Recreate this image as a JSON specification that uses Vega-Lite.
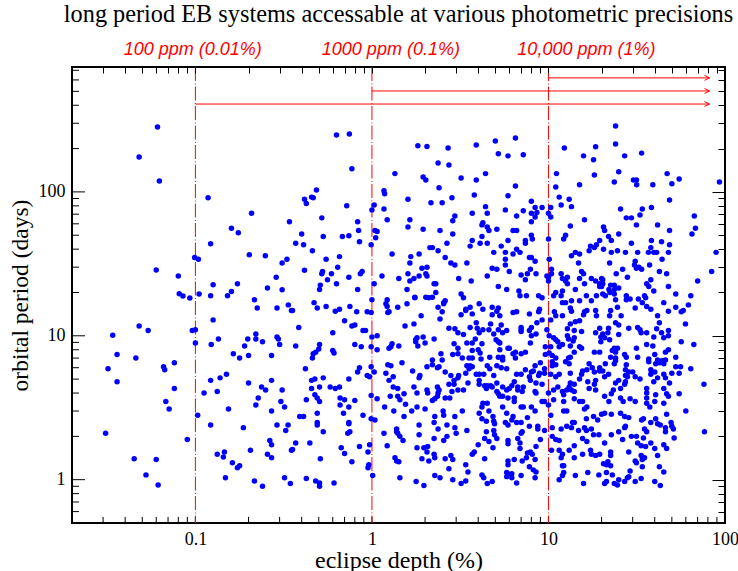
{"$schema":"https://vega.github.io/schema/vega-lite/v6.json","width":653,"height":456,"autosize":"none","padding":{"left":72,"top":67,"right":13,"bottom":48},"background":"white","view":{"stroke":"black","strokeWidth":2,"fill":null},"title":{"text":"long period EB systems accessable at various photometric precisions","font":"Liberation Serif","fontSize":24.3,"fontWeight":"normal","color":"black","anchor":"middle","offset":14},"datasets":{"pts":[
{"d":0.061,"p":283},{"d":0.048,"p":175},{"d":0.0625,"p":119},{"d":0.118,"p":91},{"d":0.208,"p":71},{"d":0.341,"p":62},{"d":0.16,"p":56},{"d":0.175,"p":52},{"d":0.122,"p":43.6},{"d":0.099,"p":35},{"d":0.104,"p":34},{"d":0.202,"p":36.6},{"d":0.249,"p":36},{"d":0.31,"p":32},{"d":0.33,"p":34},{"d":0.06,"p":28.7},{"d":0.08,"p":26},{"d":0.287,"p":25.5},{"d":0.126,"p":22.6},{"d":0.173,"p":23},{"d":0.256,"p":21.5},{"d":0.31,"p":20.9},{"d":0.16,"p":20.3},{"d":0.152,"p":19},{"d":0.081,"p":19.6},{"d":0.085,"p":18.9},{"d":0.093,"p":18.3},{"d":0.105,"p":19.5},{"d":0.122,"p":19},{"d":0.216,"p":17.8},{"d":0.224,"p":15.6},{"d":0.29,"p":15.6},{"d":0.336,"p":16.4},{"d":0.35,"p":15},{"d":0.126,"p":12.9},{"d":0.048,"p":11.7},{"d":0.054,"p":10.9},{"d":0.034,"p":10.1},{"d":0.096,"p":10.9},{"d":0.1,"p":11},{"d":0.135,"p":9.5},{"d":0.198,"p":9.5},{"d":0.22,"p":10.3},{"d":0.22,"p":9.5},{"d":0.24,"p":9.1},{"d":0.29,"p":9.8},{"d":0.295,"p":9.5},{"d":0.3,"p":8.7},{"d":0.1,"p":8.9},{"d":0.123,"p":8.7},{"d":0.19,"p":8.5},{"d":0.036,"p":7.4},{"d":0.046,"p":7},{"d":0.164,"p":7.5},{"d":0.178,"p":7},{"d":0.2,"p":7.3},{"d":0.27,"p":7.3},{"d":0.076,"p":6.5},{"d":0.066,"p":6.1},{"d":0.067,"p":5.8},{"d":0.032,"p":5.9},{"d":0.036,"p":4.8},{"d":0.122,"p":4.9},{"d":0.138,"p":5.1},{"d":0.15,"p":5.4},{"d":0.2,"p":4.7},{"d":0.27,"p":4.9},{"d":0.076,"p":4.3},{"d":0.112,"p":4},{"d":0.133,"p":4.1},{"d":0.237,"p":4.4},{"d":0.25,"p":4.2},{"d":0.31,"p":4.2},{"d":0.227,"p":3.7},{"d":0.305,"p":3.5},{"d":0.068,"p":3.5},{"d":0.071,"p":3.1},{"d":0.22,"p":3.3},{"d":0.32,"p":3.2},{"d":0.27,"p":3},{"d":0.154,"p":3.1},{"d":0.103,"p":2.8},{"d":0.122,"p":2.4},{"d":0.187,"p":2.3},{"d":0.29,"p":2.4},{"d":0.335,"p":2.4},{"d":0.325,"p":2.2},{"d":0.031,"p":2.1},{"d":0.09,"p":1.9},{"d":0.264,"p":1.87},{"d":0.27,"p":1.75},{"d":0.205,"p":1.6},{"d":0.35,"p":1.6},{"d":0.146,"p":1.56},{"d":0.133,"p":1.5},{"d":0.144,"p":1.44},{"d":0.256,"p":1.5},{"d":0.27,"p":1.42},{"d":0.045,"p":1.4},{"d":0.06,"p":1.38},{"d":0.162,"p":1.31},{"d":0.178,"p":1.25},{"d":0.173,"p":1.21},{"d":0.0525,"p":1.08},{"d":0.148,"p":1.03},{"d":0.216,"p":0.98},{"d":0.32,"p":1.03},{"d":0.0615,"p":0.92},{"d":0.24,"p":0.9},{"d":0.345,"p":0.94},
{"d":0.63,"p":249},{"d":0.745,"p":253},{"d":0.77,"p":145},{"d":1.82,"p":209},{"d":2.05,"p":207},{"d":2.7,"p":202},{"d":3.9,"p":212},{"d":5,"p":226},{"d":5.2,"p":184},{"d":5.9,"p":178},{"d":2.37,"p":159},{"d":2.73,"p":154},{"d":1.35,"p":134},{"d":1.95,"p":127},{"d":2.02,"p":121},{"d":3.2,"p":125},{"d":3.9,"p":121},{"d":4.4,"p":134},{"d":2.4,"p":107},{"d":1.17,"p":102},{"d":1.18,"p":97},{"d":0.485,"p":103},{"d":0.455,"p":92},{"d":0.465,"p":91},{"d":0.415,"p":89},{"d":0.425,"p":83},{"d":0.72,"p":80},{"d":1.6,"p":89},{"d":2.16,"p":84},{"d":2.5,"p":84},{"d":2.84,"p":91},{"d":3.8,"p":95},{"d":5.9,"p":94},{"d":1.03,"p":81},{"d":1,"p":75},{"d":1.17,"p":76},{"d":4.4,"p":79},{"d":3.7,"p":71},{"d":4.5,"p":71},{"d":5.7,"p":75},{"d":2.95,"p":68},{"d":2.87,"p":63},{"d":0.52,"p":66},{"d":0.83,"p":62},{"d":1.22,"p":64},{"d":1.64,"p":64},{"d":4.25,"p":61},{"d":4.2,"p":59},{"d":4.5,"p":57},{"d":4.6,"p":54},{"d":5.1,"p":55},{"d":1.6,"p":57},{"d":1.95,"p":55},{"d":2.43,"p":54},{"d":2.87,"p":51},{"d":4.2,"p":49},{"d":0.84,"p":54},{"d":1.04,"p":54},{"d":1.07,"p":53},{"d":0.4,"p":51},{"d":0.53,"p":49},{"d":0.68,"p":49},{"d":0.74,"p":49.5},{"d":1.05,"p":48},{"d":0.37,"p":44},{"d":0.41,"p":43},{"d":0.85,"p":45},{"d":0.99,"p":43},{"d":3.7,"p":46},{"d":4.5,"p":44},{"d":5.9,"p":46},{"d":2.66,"p":44},{"d":3.6,"p":42},{"d":4.1,"p":44},{"d":5.4,"p":42},{"d":2.13,"p":41},{"d":2.2,"p":41},{"d":2.37,"p":39},{"d":4.9,"p":38},{"d":5.7,"p":38},{"d":0.46,"p":39},{"d":1.3,"p":37},{"d":1.85,"p":37},{"d":1.66,"p":35.5},{"d":0.655,"p":35.5},{"d":0.55,"p":34},{"d":2.6,"p":35},{"d":5.7,"p":34},{"d":1.64,"p":32},{"d":2.8,"p":32},{"d":2.95,"p":31},{"d":3.45,"p":32},{"d":5.7,"p":31},{"d":0.64,"p":30},{"d":1.92,"p":29.5},{"d":2.05,"p":30},{"d":4.8,"p":29.5},{"d":5.1,"p":29},{"d":6,"p":28},{"d":0.415,"p":28.5},{"d":0.525,"p":28},{"d":0.52,"p":27},{"d":0.88,"p":28},{"d":0.86,"p":27},{"d":0.59,"p":27},{"d":2.02,"p":27},{"d":1.6,"p":27},{"d":2.05,"p":26},{"d":1.85,"p":26},{"d":1.73,"p":25},{"d":1.64,"p":24},{"d":1.42,"p":25},{"d":1.14,"p":26},{"d":0.74,"p":25.5},{"d":0.56,"p":24.5},{"d":0.63,"p":23},{"d":0.51,"p":22.5},{"d":0.505,"p":21},{"d":0.83,"p":21},{"d":1.03,"p":23},{"d":1.58,"p":21},{"d":2.25,"p":23},{"d":2.3,"p":23},{"d":2.3,"p":20},{"d":3.1,"p":25},{"d":3.65,"p":24},{"d":4.5,"p":26},{"d":5.2,"p":22},{"d":5.8,"p":21},{"d":3.2,"p":19.5},{"d":1.75,"p":18.5},{"d":2.02,"p":18.5},{"d":2.2,"p":18.5},
{"d":1,"p":17.8},{"d":1.22,"p":17.8},{"d":1.2,"p":16.7},{"d":1.22,"p":16},{"d":1.58,"p":16.7},{"d":1.75,"p":18.4},{"d":2.1,"p":18.4},{"d":2.55,"p":17},{"d":2.6,"p":17.5},{"d":3.3,"p":18.4},{"d":0.47,"p":17},{"d":0.49,"p":15.6},{"d":0.55,"p":16},{"d":0.355,"p":15},{"d":0.62,"p":14.8},{"d":0.655,"p":15.3},{"d":0.75,"p":16},{"d":0.82,"p":14.7},{"d":0.94,"p":14.7},{"d":0.99,"p":14.5},{"d":1.25,"p":14.7},{"d":1.23,"p":14.5},{"d":1.4,"p":15.8},{"d":2.37,"p":15.8},{"d":2.5,"p":14.7},{"d":2.55,"p":16.7},{"d":3.4,"p":15},{"d":3.4,"p":15.3},{"d":3.6,"p":15.8},{"d":4.25,"p":15.3},{"d":4.05,"p":16.7},{"d":4.8,"p":15.8},{"d":5.2,"p":15.6},{"d":5.1,"p":14.8},{"d":3.2,"p":14},{"d":3.7,"p":14.2},{"d":1.9,"p":13.8},{"d":2.43,"p":13.1},{"d":5.3,"p":13.8},{"d":4.8,"p":14},{"d":0.7,"p":12.7},{"d":0.385,"p":11.4},{"d":0.77,"p":11.7},{"d":0.8,"p":11.9},{"d":1.54,"p":11.7},{"d":1.73,"p":12.1},{"d":0.89,"p":10.9},{"d":0.92,"p":10.9},{"d":0.6,"p":10.5},{"d":2.73,"p":11.3},{"d":2.95,"p":11.2},{"d":3.07,"p":10.5},{"d":3.3,"p":10.2},{"d":3.6,"p":11.4},{"d":3.9,"p":12.3},{"d":3.95,"p":11.3},{"d":4.05,"p":10.5},{"d":4.25,"p":11},{"d":4.6,"p":11},{"d":4.7,"p":12.1},{"d":5.4,"p":11.9},{"d":5.2,"p":11},{"d":4.9,"p":10.3},{"d":5.8,"p":10.9},{"d":5.5,"p":10.5},{"d":1,"p":9.8},{"d":1.07,"p":10},{"d":1.95,"p":9.8},{"d":2.25,"p":9.5},{"d":1.77,"p":9.4},{"d":1.8,"p":9.7},{"d":1.77,"p":9.1},{"d":1.82,"p":8.5},{"d":2,"p":8.9},{"d":3.85,"p":9.5},{"d":3.45,"p":8.9},{"d":3.7,"p":8.9},{"d":2.92,"p":8.8},{"d":3.07,"p":8.2},{"d":4.2,"p":8.8},{"d":5.05,"p":9.4},{"d":5.3,"p":8.9},{"d":5.2,"p":9.1},{"d":5.9,"p":8.2},{"d":0.37,"p":8.5},{"d":0.505,"p":8.7},{"d":0.5,"p":8.1},{"d":0.8,"p":8.7},{"d":0.87,"p":8.4},{"d":0.99,"p":8.4},{"d":1.07,"p":8},{"d":1.25,"p":8.2},{"d":1.3,"p":8.8},{"d":1.28,"p":8.4},{"d":1.42,"p":8.5},{"d":3.7,"p":7.9},{"d":4,"p":8},{"d":4.1,"p":7.6},{"d":5.3,"p":8},{"d":0.6,"p":7.9},{"d":0.61,"p":7.6},{"d":0.48,"p":7.7},{"d":0.465,"p":7.5},{"d":0.46,"p":7},{"d":2.46,"p":7.5},{"d":2.87,"p":7.4},{"d":3.07,"p":7.5},{"d":3.25,"p":7},{"d":3.55,"p":7},{"d":3.7,"p":7},{"d":4.15,"p":6.9},{"d":4.65,"p":7.1},{"d":5.2,"p":7.1},{"d":5.5,"p":7.1},{"d":5.5,"p":6.8},{"d":2.2,"p":6.8},{"d":2.5,"p":6.8},{"d":1.48,"p":6.5},{"d":1.23,"p":6.3},{"d":1.28,"p":6.2},{"d":2.05,"p":6.1},{"d":2.2,"p":6.3},{"d":2.35,"p":6},{"d":2.4,"p":6.1},{"d":0.99,"p":6.1},{"d":0.85,"p":6},{"d":0.83,"p":5.6},{"d":0.42,"p":5.9},{"d":1.03,"p":5.6},{"d":1.2,"p":5.5},{"d":1.7,"p":5.7},{"d":2.6,"p":5.6},{"d":3.45,"p":6.2},{"d":3.6,"p":6.2},{"d":3.7,"p":6.1},{"d":3.55,"p":5.9},{"d":4.5,"p":6.2},{"d":4.65,"p":5.9},{"d":5.1,"p":6.2},{"d":5.4,"p":6},{"d":5.8,"p":5.9},{"d":2.8,"p":5.3},{"d":3.1,"p":5.3},{"d":3.4,"p":5.5},{"d":3.07,"p":5.1},{"d":3.9,"p":5.4},{"d":4.05,"p":5.4},{"d":4.3,"p":5.4},{"d":4.9,"p":5.3},{"d":0.94,"p":5.3},{"d":0.97,"p":5.2},{"d":1.87,"p":5.3},{"d":1.85,"p":5.1},{"d":1.32,"p":5.2},{"d":1.25,"p":4.9},{"d":0.74,"p":5},{"d":0.53,"p":5.1},{"d":0.455,"p":4.9},{"d":0.475,"p":5},{"d":4.05,"p":4.9},{"d":2.92,"p":4.9},{"d":2.92,"p":4.6},{"d":2.73,"p":4.6},{"d":3.5,"p":4.7},{"d":4.05,"p":4.6},{"d":5.1,"p":4.7},{"d":4.35,"p":4.5},{"d":4.5,"p":4.5},{"d":4.7,"p":4.5},{"d":4.45,"p":4.3},{"d":4.8,"p":4.4},{"d":5.5,"p":4.4},{"d":5.8,"p":4.2},{"d":2.35,"p":4.4},{"d":2.4,"p":4.2},{"d":1.73,"p":4.4},{"d":1.32,"p":4.4},{"d":1.4,"p":4.3},{"d":0.58,"p":4.4},{"d":0.62,"p":4.3},{"d":0.655,"p":4.4},{"d":0.455,"p":4.3},{"d":0.505,"p":4.4},{"d":2.05,"p":4.2},{"d":1.8,"p":4},{"d":2.84,"p":4.1},{"d":3.07,"p":4.2},{"d":3.3,"p":4.2},{"d":1.52,"p":3.95},{"d":2.07,"p":4},{"d":2.37,"p":4},{"d":5.1,"p":4.1},{"d":5.2,"p":3.95},{"d":5.3,"p":3.8},{"d":5.5,"p":3.8},{"d":0.475,"p":3.9},{"d":0.49,"p":3.7},{"d":1.27,"p":3.8},{"d":1.4,"p":3.8},{"d":1.44,"p":3.6},{"d":1.07,"p":3.65},{"d":0.99,"p":3.85},{"d":0.66,"p":3.7},{"d":0.7,"p":3.6},{"d":0.8,"p":3.55},{"d":2.35,"p":3.8},{"d":2.27,"p":3.65},{"d":2.6,"p":3.7},{"d":2.76,"p":3.7},{"d":5.9,"p":3.7},{"d":2.2,"p":3.55},{"d":0.425,"p":3.6},{"d":0.505,"p":3.5},{"d":0.66,"p":3.3},{"d":0.74,"p":3.2},{"d":1.55,"p":3.35},{"d":1.18,"p":3.2},{"d":1.33,"p":3},{"d":1.8,"p":3.2},{"d":1.68,"p":3},{"d":2,"p":3.1},{"d":4.25,"p":3.4},{"d":4.5,"p":3.4},{"d":4.2,"p":3.2},{"d":5.5,"p":3.2},{"d":2.53,"p":3},{"d":3.25,"p":3},{"d":4.05,"p":2.9},{"d":4.6,"p":3},{"d":5.8,"p":2.9},{"d":0.69,"p":2.9},{"d":0.49,"p":2.9},{"d":0.39,"p":2.75},{"d":0.41,"p":2.75},{"d":0.89,"p":2.8},{"d":1.52,"p":2.75},{"d":2.27,"p":2.75},{"d":2.55,"p":2.8},{"d":2.95,"p":2.75},{"d":4.85,"p":2.75},{"d":0.99,"p":2.65},{"d":1.04,"p":2.6},{"d":4.2,"p":2.65},{"d":4.45,"p":2.55},{"d":4.9,"p":2.55},{"d":2.25,"p":2.5},{"d":0.74,"p":2.5},{"d":0.74,"p":2.45},{"d":0.49,"p":2.5},{"d":0.49,"p":2.4},{"d":1.85,"p":2.4},{"d":2.66,"p":2.4},{"d":4.95,"p":2.45},{"d":5.7,"p":2.5},{"d":5.9,"p":2.4},{"d":2.37,"p":2.25},{"d":2.95,"p":2.3},{"d":1.38,"p":2.25},{"d":0.53,"p":2.15},{"d":1.38,"p":2.15},{"d":1.4,"p":2.1},{"d":0.75,"p":2.15},{"d":0.73,"p":2.1},{"d":3,"p":2.1},{"d":3.45,"p":2.2},{"d":4.45,"p":2.15},{"d":4.9,"p":2.2},{"d":1.17,"p":2.1},{"d":1.85,"p":2.05},{"d":1.44,"p":2},{"d":4.95,"p":2.05},{"d":2.66,"p":2},{"d":5.1,"p":1.93},{"d":2.25,"p":1.93},{"d":4.35,"p":1.93},{"d":1.5,"p":1.87},{"d":2.55,"p":1.87},{"d":4.6,"p":1.84},{"d":5.9,"p":1.87},{"d":0.37,"p":1.8},{"d":0.445,"p":1.8},{"d":0.97,"p":1.75},{"d":1.22,"p":1.72},{"d":4,"p":1.75},{"d":5.9,"p":1.78},{"d":2.07,"p":1.7},{"d":0.85,"p":1.7},{"d":1.8,"p":1.67},{"d":1.97,"p":1.67},{"d":0.67,"p":1.67},{"d":4.85,"p":1.67},{"d":0.355,"p":1.62},{"d":0.95,"p":1.56},{"d":2.05,"p":1.56},{"d":0.7,"p":1.52},{"d":2.25,"p":1.5},{"d":3.8,"p":1.56},{"d":3.7,"p":1.5},{"d":2.8,"p":1.47},{"d":2.27,"p":1.42},{"d":1.35,"p":1.42},{"d":1.92,"p":1.4},{"d":2.6,"p":1.4},{"d":2.87,"p":1.38},{"d":4.35,"p":1.4},{"d":0.51,"p":1.4},{"d":1.38,"p":1.35},{"d":1.42,"p":1.33},{"d":2.1,"p":1.35},{"d":0.77,"p":1.33},{"d":5.9,"p":1.35},{"d":5.9,"p":1.27},{"d":0.96,"p":1.27},{"d":0.95,"p":1.21},{"d":3.4,"p":1.27},{"d":2.73,"p":1.19},{"d":3.5,"p":1.13},{"d":1.01,"p":1.07},{"d":1.44,"p":1.03},{"d":2.27,"p":1.07},{"d":2.43,"p":1.03},{"d":4.2,"p":1.08},{"d":4.3,"p":1.03},{"d":5.8,"p":1.12},{"d":5.8,"p":1.05},{"d":0.425,"p":1.02},{"d":0.48,"p":0.98},{"d":0.505,"p":0.95},{"d":0.505,"p":0.9},{"d":0.61,"p":0.95},{"d":1.78,"p":0.97},{"d":1.97,"p":0.91},{"d":2.87,"p":1},{"d":3.4,"p":0.98},{"d":3.2,"p":0.94},{"d":4.8,"p":0.97},{"d":4.5,"p":0.94},
{"d":24,"p":287},{"d":6.5,"p":237},{"d":24,"p":215},{"d":18.5,"p":206},{"d":12.3,"p":202},{"d":15.8,"p":178},{"d":18,"p":167},{"d":27,"p":178},{"d":33.7,"p":186},{"d":7.2,"p":181},{"d":11.1,"p":134},{"d":18.2,"p":131},{"d":25,"p":138},{"d":47,"p":134},{"d":55,"p":123},{"d":23.6,"p":117},{"d":30.3,"p":121},{"d":31.5,"p":121},{"d":31.6,"p":112},{"d":39,"p":112},{"d":50,"p":114},{"d":93,"p":117},{"d":15,"p":112},{"d":11,"p":108},{"d":6.5,"p":110},{"d":11.5,"p":92},{"d":13.1,"p":89},{"d":48.5,"p":88},{"d":8,"p":86},{"d":11.8,"p":81},{"d":13.5,"p":79},{"d":8.4,"p":78},{"d":10.3,"p":78},{"d":25.6,"p":76},{"d":38.3,"p":78},{"d":34,"p":76},{"d":9.2,"p":78},{"d":8.6,"p":72},{"d":8,"p":71},{"d":7.2,"p":74},{"d":10,"p":71},{"d":10.3,"p":67},{"d":8.4,"p":67},{"d":6.6,"p":68},{"d":33,"p":69},{"d":67,"p":68},{"d":27.6,"p":66},{"d":29.5,"p":66},{"d":16,"p":64},{"d":8,"p":62},{"d":31.5,"p":59},{"d":41.5,"p":59},{"d":13.3,"p":58},{"d":20.5,"p":57},{"d":20.8,"p":54},{"d":68,"p":56},{"d":48.5,"p":54},{"d":65,"p":51},{"d":25,"p":51},{"d":6.3,"p":54},{"d":6.6,"p":54},{"d":8,"p":50},{"d":8.1,"p":47},{"d":12.5,"p":50},{"d":12.2,"p":47},{"d":10,"p":47},{"d":21.9,"p":49},{"d":22.7,"p":46},{"d":7.4,"p":46},{"d":7.4,"p":44},{"d":19.5,"p":46},{"d":18.7,"p":43},{"d":17.3,"p":42},{"d":18.2,"p":41},{"d":29.5,"p":44},{"d":38.3,"p":46},{"d":43.7,"p":45},{"d":48.5,"p":43},{"d":38,"p":41},{"d":17,"p":39},{"d":20.5,"p":40},{"d":22.7,"p":38},{"d":24.6,"p":39},{"d":27.3,"p":38},{"d":32,"p":38},{"d":36.8,"p":38},{"d":39.5,"p":38},{"d":41,"p":38},{"d":47.8,"p":38},{"d":89,"p":38},{"d":14.2,"p":38},{"d":15,"p":37},{"d":13.5,"p":36},{"d":6.6,"p":40},{"d":6.9,"p":38},{"d":6.3,"p":37},{"d":7.8,"p":35},{"d":8,"p":35},{"d":8.4,"p":33},{"d":10.1,"p":34},{"d":44,"p":34},{"d":31,"p":33},{"d":22.2,"p":32},{"d":14.8,"p":32},{"d":30.7,"p":31},{"d":32.5,"p":30},{"d":37.4,"p":31},{"d":33.7,"p":29},{"d":31.5,"p":29.5},{"d":7.9,"p":29},{"d":10.4,"p":29},{"d":10.4,"p":27},{"d":26.3,"p":29},{"d":24.2,"p":27},{"d":42.5,"p":28},{"d":46.7,"p":27},{"d":84,"p":28},{"d":15.4,"p":28},{"d":15.8,"p":27},{"d":11.8,"p":27},{"d":7.6,"p":27},{"d":8.5,"p":27},{"d":7,"p":26.5},{"d":9.8,"p":26},{"d":10,"p":25.5},{"d":7.4,"p":24.5},{"d":12.8,"p":25.5},{"d":12,"p":25},{"d":12.5,"p":24},{"d":10,"p":24},{"d":28,"p":25.5},{"d":15,"p":25},{"d":17.5,"p":25},{"d":20,"p":25},{"d":20.3,"p":24.5},{"d":18.5,"p":24},{"d":38,"p":24.5},{"d":70,"p":24},{"d":12.8,"p":23},{"d":16,"p":23},{"d":19.5,"p":23},{"d":20.3,"p":23},{"d":19.5,"p":22},{"d":20,"p":22},{"d":22.5,"p":22.5},{"d":23.6,"p":22.5},{"d":25,"p":21.5},{"d":22,"p":21},{"d":23.6,"p":21},{"d":36,"p":23},{"d":37,"p":22},{"d":14.2,"p":21},{"d":47.8,"p":22},{"d":12,"p":20.5},{"d":11,"p":20},{"d":39.5,"p":20.5},{"d":22.3,"p":20},{"d":23.6,"p":19.5},{"d":6.8,"p":20.5},{"d":6.9,"p":19},{"d":7.5,"p":19},{"d":8.8,"p":19},{"d":10.7,"p":19},{"d":11.8,"p":19},{"d":16.4,"p":19},{"d":18.7,"p":19},{"d":20.3,"p":19.5},{"d":21,"p":19},{"d":27.6,"p":19},{"d":52.6,"p":19.5},{"d":64,"p":19},{"d":35,"p":19},
{"d":12,"p":17},{"d":12.5,"p":17},{"d":13.5,"p":17.5},{"d":15,"p":17.5},{"d":17.5,"p":17.5},{"d":24,"p":17.8},{"d":27.6,"p":17.8},{"d":29,"p":18},{"d":32.3,"p":18},{"d":35.5,"p":18.4},{"d":45,"p":17},{"d":9.2,"p":18.4},{"d":62,"p":16.4},{"d":52.6,"p":15.8},{"d":56.5,"p":14.7},{"d":58,"p":15},{"d":47.8,"p":14.8},{"d":38,"p":15.3},{"d":36,"p":16},{"d":34,"p":17},{"d":31,"p":15.6},{"d":24.6,"p":15.8},{"d":22.5,"p":15},{"d":18.5,"p":15},{"d":16.5,"p":15},{"d":16,"p":14.7},{"d":13.3,"p":15.6},{"d":13.5,"p":14.8},{"d":10.8,"p":14.7},{"d":11,"p":13.8},{"d":12,"p":13.8},{"d":8.9,"p":15.3},{"d":8.8,"p":14.7},{"d":6.6,"p":14.7},{"d":6.3,"p":14.5},{"d":7.8,"p":14.2},{"d":15.8,"p":14},{"d":18.7,"p":13.8},{"d":22.2,"p":13.8},{"d":25.8,"p":13.8},{"d":41.5,"p":13.8},{"d":15,"p":12.7},{"d":14.2,"p":12.5},{"d":13.3,"p":12.1},{"d":10.3,"p":12.9},{"d":9.2,"p":12.9},{"d":8.6,"p":12.3},{"d":8,"p":11.4},{"d":7,"p":11.4},{"d":7,"p":11},{"d":42.5,"p":12.3},{"d":24,"p":12.3},{"d":25,"p":11.9},{"d":59.7,"p":12.1},{"d":32,"p":11.4},{"d":28.5,"p":11.3},{"d":41,"p":11.2},{"d":47.8,"p":10.9},{"d":19.5,"p":11.3},{"d":21.9,"p":11.3},{"d":14,"p":10.9},{"d":12.8,"p":11.2},{"d":15.4,"p":10.7},{"d":9.8,"p":11},{"d":7.8,"p":10.9},{"d":7,"p":10.7},{"d":8.5,"p":10.3},{"d":8,"p":10},{"d":10.1,"p":10},{"d":33,"p":11},{"d":33.5,"p":10.5},{"d":36,"p":10.5},{"d":43.7,"p":10.5},{"d":47.8,"p":10},{"d":45,"p":9.7},{"d":39.5,"p":9.8},{"d":25,"p":10.2},{"d":18.5,"p":10.5},{"d":20.3,"p":10.3},{"d":21.7,"p":10.5},{"d":19.8,"p":9.8},{"d":20.8,"p":9.7},{"d":22.2,"p":9.4},{"d":19.8,"p":9.1},{"d":12.8,"p":10},{"d":14,"p":9.7},{"d":13,"p":9.5},{"d":10.7,"p":9.7},{"d":11,"p":9.4},{"d":11.3,"p":9.1},{"d":12,"p":8.7},{"d":11.5,"p":8.4},{"d":13.8,"p":9.2},{"d":7.9,"p":8.9},{"d":56.5,"p":9.1},{"d":66.6,"p":8.7},{"d":36,"p":8.7},{"d":39,"p":8.5},{"d":9.6,"p":8.4},{"d":10.3,"p":8.4},{"d":13.3,"p":8.5},{"d":15,"p":8.4},{"d":15.4,"p":8.2},{"d":6,"p":8.2},{"d":23.6,"p":8.2},{"d":24.6,"p":8.2},{"d":31.5,"p":8.2},{"d":47.8,"p":8},{"d":46,"p":7.7},{"d":23,"p":7.9},{"d":24,"p":7.7},{"d":18.2,"p":7.7},{"d":19.5,"p":7.7},{"d":14,"p":7.7},{"d":7.4,"p":7.7},{"d":7,"p":7.5},{"d":6.5,"p":7.7},{"d":6.3,"p":7.5},{"d":9.6,"p":7.4},{"d":10.1,"p":7.6},{"d":10.5,"p":7.3},{"d":11,"p":7},{"d":6.5,"p":7},{"d":13.3,"p":7.1},{"d":13,"p":7},{"d":12.5,"p":6.6},{"d":13.1,"p":6.4},{"d":22.5,"p":7.1},{"d":24,"p":7},{"d":27,"p":7.4},{"d":27.6,"p":7.1},{"d":32,"p":7.1},{"d":40,"p":7.4},{"d":52.6,"p":7.1},{"d":37,"p":6.9},{"d":37,"p":6.6},{"d":41.5,"p":6.8},{"d":44,"p":6.7},{"d":46,"p":6.8},{"d":40.5,"p":6.4},{"d":42.5,"p":6.5},{"d":45,"p":6.4},{"d":56,"p":6.1},{"d":52.6,"p":6.1},{"d":64,"p":5.9},{"d":24,"p":6.7},{"d":23.6,"p":6.4},{"d":27.6,"p":6.3},{"d":21,"p":6.4},{"d":17,"p":6.4},{"d":10.5,"p":6.6},{"d":11,"p":6.3},{"d":10.5,"p":6.2},{"d":9,"p":6.5},{"d":8.4,"p":6.2},{"d":7.4,"p":5.8},{"d":8,"p":5.6},{"d":8.2,"p":5.7},{"d":9.5,"p":5.9},{"d":8.9,"p":5.5},{"d":8.8,"p":5.3},{"d":9.5,"p":5.5},{"d":10.3,"p":5.4},{"d":11.5,"p":5.4},{"d":11,"p":5.2},{"d":13.3,"p":5.5},{"d":15.6,"p":5.7},{"d":17.7,"p":6},{"d":19.5,"p":6},{"d":20.3,"p":5.7},{"d":21.9,"p":5.4},{"d":16.5,"p":5.8},{"d":15.4,"p":5.4},{"d":15,"p":5},{"d":18.2,"p":5.6},{"d":19.5,"p":5.7},{"d":27.3,"p":5.8},{"d":28.5,"p":5.6},{"d":30,"p":5.6},{"d":27.3,"p":5.3},{"d":31,"p":5.2},{"d":33,"p":5},{"d":28,"p":5.2},{"d":38,"p":5.8},{"d":38,"p":5.4},{"d":40,"p":5.6},{"d":41.5,"p":5.1},{"d":39.5,"p":4.8},{"d":45,"p":5.4},{"d":50,"p":5.5},{"d":55,"p":5.5},{"d":46,"p":5.1},{"d":48.5,"p":4.7},{"d":76,"p":4.6},{"d":55,"p":3.95},{"d":16.7,"p":4.8},{"d":18.5,"p":4.9},{"d":18.2,"p":4.6},{"d":20.8,"p":5.2},{"d":25,"p":4.9},{"d":24,"p":4.7},{"d":27.3,"p":4.8},{"d":27,"p":4.6},{"d":23.3,"p":4.2},{"d":17,"p":4.3},{"d":18.5,"p":4.2},{"d":14,"p":4.6},{"d":13.3,"p":4.7},{"d":13.1,"p":4.4},{"d":11.3,"p":4.4},{"d":9.2,"p":4.6},{"d":8.5,"p":4.7},{"d":7.9,"p":4.9},{"d":7.8,"p":5.2},{"d":7,"p":5.4},{"d":6.6,"p":5.4},{"d":6.4,"p":4.8},{"d":6.2,"p":4.5},{"d":6.7,"p":4.4},{"d":7.2,"p":4.4},{"d":6.7,"p":4.2},{"d":7.1,"p":4.1},{"d":6,"p":4.3},{"d":8.4,"p":4.1},{"d":8.5,"p":4},{"d":10,"p":4},{"d":10.7,"p":4.2},{"d":12,"p":4.1},{"d":12.2,"p":3.9},{"d":12.7,"p":4.2},{"d":14,"p":4.1},{"d":13.5,"p":4.2},{"d":22.7,"p":3.95},{"d":25.6,"p":4.3},{"d":36,"p":4.3},{"d":36,"p":4},{"d":40.5,"p":3.9},{"d":45,"p":4.3},{"d":46.7,"p":3.95},{"d":47.8,"p":3.8},{"d":20.8,"p":3.8},{"d":22,"p":3.5},{"d":25.6,"p":3.7},{"d":26.5,"p":3.5},{"d":29,"p":3.65},{"d":31,"p":3.5},{"d":36,"p":3.7},{"d":36,"p":3.4},{"d":40,"p":3.5},{"d":45,"p":3.4},{"d":37.5,"p":3.2},{"d":60,"p":3},{"d":14,"p":3.65},{"d":15,"p":3.5},{"d":15.6,"p":3.5},{"d":12.2,"p":3.5},{"d":10.7,"p":3.6},{"d":9.2,"p":3.5},{"d":9.5,"p":3.5},{"d":10,"p":3.3},{"d":6.4,"p":3.7},{"d":6.4,"p":3.5},{"d":7.2,"p":3.2},{"d":7,"p":3.2},{"d":8,"p":3.2},{"d":8.4,"p":3},{"d":16.5,"p":3.2},{"d":16,"p":3.1},{"d":12.2,"p":3},{"d":12.7,"p":3},{"d":10.3,"p":2.8},{"d":20.8,"p":2.9},{"d":20,"p":2.85},{"d":22.7,"p":2.85},{"d":25.6,"p":2.9},{"d":27,"p":2.75},{"d":28.5,"p":2.7},{"d":46.7,"p":2.85},{"d":18,"p":2.75},{"d":19,"p":2.6},{"d":16.4,"p":2.65},{"d":7.6,"p":2.7},{"d":6.3,"p":2.75},{"d":6.2,"p":2.6},{"d":6.6,"p":2.5},{"d":7,"p":2.5},{"d":33.7,"p":2.6},{"d":34.5,"p":2.65},{"d":38,"p":2.5},{"d":40.5,"p":2.65},{"d":49.5,"p":2.5},{"d":14,"p":2.5},{"d":13.7,"p":2.5},{"d":41.5,"p":2.45},{"d":43,"p":2.4},{"d":27.3,"p":2.35},{"d":27,"p":2.3},{"d":7.8,"p":2.35},{"d":8.7,"p":2.35},{"d":8.7,"p":2.25},{"d":9.5,"p":2.2},{"d":10.5,"p":2.3},{"d":11.8,"p":2.25},{"d":12.7,"p":2.35},{"d":13.5,"p":2.3},{"d":14.8,"p":2.2},{"d":16,"p":2.3},{"d":16.4,"p":2.2},{"d":17.5,"p":2.25},{"d":35,"p":2.25},{"d":36,"p":2.15},{"d":46,"p":2.3},{"d":46,"p":2.15},{"d":50,"p":2.35},{"d":51,"p":2.25},{"d":76.5,"p":2.15},{"d":7.1,"p":2.15},{"d":7,"p":2.1},{"d":25,"p":2.15},{"d":22.7,"p":2.05},{"d":18,"p":2.05},{"d":19.3,"p":2.05},{"d":29.5,"p":2},{"d":31.5,"p":2},{"d":34.5,"p":1.95},{"d":51.5,"p":1.95},{"d":6.7,"p":1.93},{"d":10.5,"p":2},{"d":11,"p":1.9},{"d":11.5,"p":1.87},{"d":9,"p":1.9},{"d":15.6,"p":1.93},{"d":16.5,"p":1.84},{"d":26.3,"p":1.9},{"d":20.8,"p":1.8},{"d":32,"p":1.8},{"d":33.5,"p":1.72},{"d":35.5,"p":1.7},{"d":38,"p":1.8},{"d":45,"p":1.75},{"d":46.7,"p":1.65},{"d":6.9,"p":1.8},{"d":8.5,"p":1.7},{"d":14,"p":1.72},{"d":40,"p":1.65},{"d":17.3,"p":1.6},{"d":6.9,"p":1.65},{"d":10.4,"p":1.6},{"d":11.5,"p":1.6},{"d":13.1,"p":1.6},{"d":22.5,"p":1.56},{"d":28.5,"p":1.56},{"d":7.9,"p":1.56},{"d":7.6,"p":1.53},{"d":8.1,"p":1.5},{"d":12,"p":1.5},{"d":15.6,"p":1.5},{"d":17.5,"p":1.5},{"d":18.5,"p":1.47},{"d":19.5,"p":1.5},{"d":22.5,"p":1.47},{"d":33.5,"p":1.47},{"d":41.5,"p":1.47},{"d":7.1,"p":1.35},{"d":7.5,"p":1.42},{"d":8.4,"p":1.38},{"d":6.4,"p":1.38},{"d":11.8,"p":1.42},{"d":14,"p":1.42},{"d":35,"p":1.42},{"d":31,"p":1.35},{"d":34,"p":1.38},{"d":31.5,"p":1.31},{"d":34,"p":1.23},{"d":20.5,"p":1.29},{"d":21.7,"p":1.33},{"d":22.5,"p":1.25},{"d":21.3,"p":1.27},{"d":12,"p":1.25},{"d":12.2,"p":1.25},{"d":7.8,"p":1.23},{"d":8.2,"p":1.17},{"d":8.5,"p":1.13},{"d":42.5,"p":1.23},{"d":45,"p":1.13},{"d":29,"p":1.15},{"d":12.2,"p":1.12},{"d":12,"p":1.07},{"d":7,"p":1.07},{"d":5.9,"p":1.1},{"d":6.2,"p":1.1},{"d":8.4,"p":1.03},{"d":6.2,"p":1.03},{"d":11.5,"p":1},{"d":14.2,"p":1.07},{"d":16.7,"p":1.12},{"d":19.3,"p":1.08},{"d":21.3,"p":1.12},{"d":23,"p":1.08},{"d":25,"p":1},{"d":28,"p":1.03},{"d":27,"p":0.97},{"d":28.5,"p":1.05},{"d":33.5,"p":1.02},{"d":31,"p":0.97},{"d":40,"p":0.97},{"d":43,"p":0.91},{"d":6.6,"p":0.95},{"d":15.8,"p":0.94},{"d":21.3,"p":0.97},{"d":20.8,"p":0.94},{"d":23.6,"p":0.94},{"d":24.6,"p":0.92}
]},"layer":[
{"data":{"values":[{"d":0.03,"a":0.5,"b":0.551},{"d":0.04,"a":0.5,"b":0.551},{"d":0.05,"a":0.5,"b":0.551},{"d":0.06,"a":0.5,"b":0.551},{"d":0.07,"a":0.5,"b":0.551},{"d":0.08,"a":0.5,"b":0.551},{"d":0.09,"a":0.5,"b":0.551},{"d":0.1,"a":0.5,"b":0.551},{"d":0.2,"a":0.5,"b":0.551},{"d":0.3,"a":0.5,"b":0.551},{"d":0.4,"a":0.5,"b":0.551},{"d":0.5,"a":0.5,"b":0.551},{"d":0.6,"a":0.5,"b":0.551},{"d":0.7,"a":0.5,"b":0.551},{"d":0.8,"a":0.5,"b":0.551},{"d":0.9,"a":0.5,"b":0.551},{"d":1,"a":0.5,"b":0.551},{"d":2,"a":0.5,"b":0.551},{"d":3,"a":0.5,"b":0.551},{"d":4,"a":0.5,"b":0.551},{"d":5,"a":0.5,"b":0.551},{"d":6,"a":0.5,"b":0.551},{"d":7,"a":0.5,"b":0.551},{"d":8,"a":0.5,"b":0.551},{"d":9,"a":0.5,"b":0.551},{"d":10,"a":0.5,"b":0.551},{"d":20,"a":0.5,"b":0.551},{"d":30,"a":0.5,"b":0.551},{"d":40,"a":0.5,"b":0.551},{"d":50,"a":0.5,"b":0.551},{"d":60,"a":0.5,"b":0.551},{"d":70,"a":0.5,"b":0.551},{"d":80,"a":0.5,"b":0.551},{"d":90,"a":0.5,"b":0.551}]},"mark":{"type":"rule","color":"black","strokeWidth":1},"encoding":{"x":{"field":"d","type":"quantitative","scale":{"type":"log","domain":[0.02,100],"nice":false},"axis":null},"y":{"field":"a","type":"quantitative","scale":{"type":"log","domain":[0.5,738],"nice":false},"axis":null},"y2":{"field":"b"}}},
{"data":{"values":[{"p":0.6,"a":0.02,"t":0.0219},{"p":0.7,"a":0.02,"t":0.0219},{"p":0.8,"a":0.02,"t":0.0219},{"p":0.9,"a":0.02,"t":0.0219},{"p":1,"a":0.02,"t":0.0237},{"p":2,"a":0.02,"t":0.0219},{"p":3,"a":0.02,"t":0.0219},{"p":4,"a":0.02,"t":0.0219},{"p":5,"a":0.02,"t":0.0219},{"p":6,"a":0.02,"t":0.0219},{"p":7,"a":0.02,"t":0.0219},{"p":8,"a":0.02,"t":0.0219},{"p":9,"a":0.02,"t":0.0219},{"p":10,"a":0.02,"t":0.0237},{"p":20,"a":0.02,"t":0.0219},{"p":30,"a":0.02,"t":0.0219},{"p":40,"a":0.02,"t":0.0219},{"p":50,"a":0.02,"t":0.0219},{"p":60,"a":0.02,"t":0.0219},{"p":70,"a":0.02,"t":0.0219},{"p":80,"a":0.02,"t":0.0219},{"p":90,"a":0.02,"t":0.0219},{"p":100,"a":0.02,"t":0.0237},{"p":200,"a":0.02,"t":0.0219},{"p":300,"a":0.02,"t":0.0219},{"p":400,"a":0.02,"t":0.0219},{"p":500,"a":0.02,"t":0.0219},{"p":600,"a":0.02,"t":0.0219},{"p":700,"a":0.02,"t":0.0219}]},"mark":{"type":"rule","color":"black","strokeWidth":1},"encoding":{"y":{"field":"p","type":"quantitative","scale":{"type":"log","domain":[0.5,738],"nice":false},"axis":null},"x":{"field":"a","type":"quantitative","scale":{"type":"log","domain":[0.02,100],"nice":false},"axis":null},"x2":{"field":"t"}}},
{"data":{"values":[{"d":0.1},{"d":1},{"d":10}]},"mark":{"type":"rule","color":"#ff0000","strokeWidth":1,"strokeDash":[14,2.5,1,2]},"encoding":{"x":{"field":"d","type":"quantitative","scale":{"type":"log","domain":[0.02,100],"nice":false},"axis":null}}},
{"data":{"values":[{"start":0.1,"end":81.7,"p":408},{"start":1,"end":81.7,"p":503},{"start":10,"end":81.7,"p":620}]},"mark":{"type":"rule","color":"#ff0000","strokeWidth":1},"encoding":{"x":{"field":"start","type":"quantitative","scale":{"type":"log","domain":[0.02,100],"nice":false},"axis":{"orient":"top","title":null,"labels":false,"domain":false,"grid":false,"values":[0.02,0.03,0.04,0.05,0.06,0.07,0.08,0.09,0.1,0.2,0.3,0.4,0.5,0.6,0.7,0.8,0.9,1,2,3,4,5,6,7,8,9,10,20,30,40,50,60,70,80,90,100],"tickSize":-6,"tickColor":"black","tickWidth":1,"zindex":1}},"x2":{"field":"end"},"y":{"field":"p","type":"quantitative","scale":{"type":"log","domain":[0.5,738],"nice":false},"axis":{"orient":"right","title":null,"labels":false,"domain":false,"grid":false,"values":[0.5,0.6,0.7,0.8,0.9,1,2,3,4,5,6,7,8,9,10,20,30,40,50,60,70,80,90,100,200,300,400,500,600,700],"tickSize":{"condition":{"test":"datum.value==1||datum.value==10||datum.value==100","value":-13},"value":-7},"tickColor":"black","tickWidth":1,"zindex":1}}}},
{"data":{"values":[{"end":81.7,"p":408},{"end":81.7,"p":503},{"end":81.7,"p":620}]},"mark":{"type":"point","shape":"M-1,-0.5L0,0L-1,0.5","filled":false,"color":"#ff0000","strokeWidth":1,"size":100,"opacity":1},"encoding":{"x":{"field":"end","type":"quantitative","scale":{"type":"log","domain":[0.02,100],"nice":false},"axis":null},"y":{"field":"p","type":"quantitative","scale":{"type":"log","domain":[0.5,738],"nice":false},"axis":null}}},
{"data":{"values":[{"d":0.0965,"p":970,"label":"100 ppm (0.01%)"},{"d":1.28,"p":970,"label":"1000 ppm (0.1%)"},{"d":16.4,"p":970,"label":"10,000 ppm (1%)"}]},"mark":{"type":"text","font":"Liberation Sans","fontStyle":"italic","fontSize":18,"color":"#ff0000","align":"center","baseline":"middle"},"encoding":{"x":{"field":"d","type":"quantitative","scale":{"type":"log","domain":[0.02,100],"nice":false},"axis":null},"y":{"field":"p","type":"quantitative","scale":{"type":"log","domain":[0.5,738],"nice":false},"axis":null},"text":{"field":"label","type":"nominal"}}},
{"data":{"name":"pts"},"mark":{"type":"point","filled":true,"shape":"circle","color":"#0000ff","size":30,"opacity":1},"encoding":{"x":{"field":"d","type":"quantitative","scale":{"type":"log","domain":[0.02,100],"nice":false},"axis":{"orient":"bottom","title":"eclipse depth (%)","titleFont":"Liberation Serif","titleFontSize":24,"titleFontWeight":"normal","titleColor":"black","titlePadding":0.5,"labelFont":"Liberation Serif","labelFontSize":18,"labelColor":"black","labelPadding":7,"domain":false,"grid":false,"values":[0.1,1,10,100],"labelOverlap":false,"labelFlush":false,"format":"~g","ticks":false}},"y":{"field":"p","type":"quantitative","scale":{"type":"log","domain":[0.5,738],"nice":false},"axis":{"orient":"left","title":"orbital period (days)","titleFont":"Liberation Serif","titleFontSize":23.5,"titleFontWeight":"normal","titleColor":"black","titlePadding":6,"labelFont":"Liberation Serif","labelFontSize":18,"labelColor":"black","labelPadding":7,"domain":false,"grid":false,"values":[1,10,100],"format":"~g","labelOverlap":false,"ticks":false}}}}
],"resolve":{"axis":{"x":"independent","y":"independent"}}}
